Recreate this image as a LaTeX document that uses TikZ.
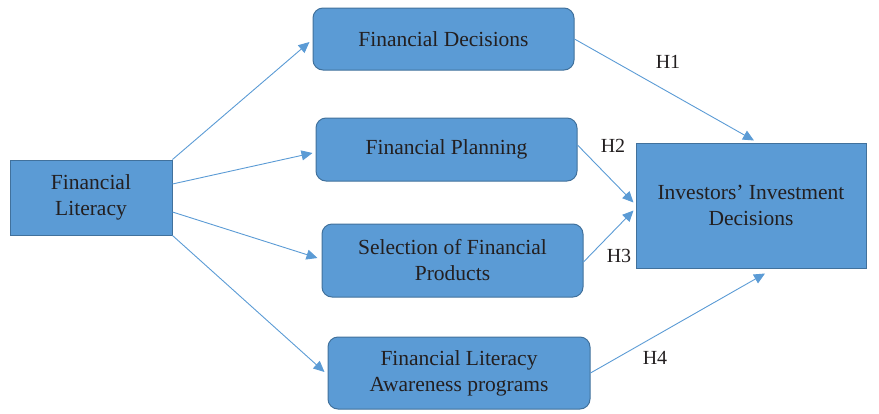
\documentclass[tikz,border=0pt]{standalone}
\usepackage{fontspec}
\usepackage{xcolor}
\usetikzlibrary{arrows.meta}
\setmainfont{Liberation Serif}

\definecolor{boxblue}{HTML}{5B9BD5}
\definecolor{boxedge}{HTML}{41719C}
\definecolor{textgray}{HTML}{231F20}

\begin{document}
\begin{tikzpicture}[x=1pt, y=-1pt, font=\rmfamily\fontsize{21.5}{26}\selectfont, text=textgray]
% Define styles
\tikzstyle{box}=[rectangle, text centered, align=center, draw=boxedge, line width=1pt, fill=boxblue, inner sep=0pt]
\tikzstyle{roundBox}=[box, rounded corners=10pt]
\tikzstyle{arrow}=[-{Triangle[length=11pt,width=10pt]}, draw=boxblue, line width=0.9pt]
\tikzstyle{hyp}=[inner sep=0pt, font=\rmfamily\fontsize{20}{24}\selectfont]

\useasboundingbox (0,0) rectangle (879,413);

% Draw input and output boxes
\node[box, minimum width=162pt, minimum height=75pt] (literacy) at (91,197.5) {Financial\\Literacy};
\node[box, minimum width=230pt, minimum height=125pt] (investors) at (751,205.5) {Investors’ Investment\\Decisions};

% Draw mediating boxes
\node[roundBox, minimum width=261pt, minimum height=62pt] (decisions) at (443.5,39) {Financial Decisions};
\node[roundBox, minimum width=261pt, minimum height=63pt] (planning) at (446.5,149.5) {Financial Planning};
\node[roundBox, minimum width=261pt, minimum height=73pt] (selection) at (452.5,260.5) {Selection of Financial\\Products};
\node[roundBox, minimum width=262pt, minimum height=72pt] (awareness) at (459,373) {Financial Literacy\\Awareness programs};

% Arrows
\draw[arrow] (literacy.north east) -- ([xshift=-3pt,yshift=-3pt]decisions.west);
\draw[arrow] ([yshift=13.5pt]literacy.east) -- ([xshift=-3pt,yshift=-3.5pt]planning.west);
\draw[arrow] ([yshift=-14.5pt]literacy.east) -- ([xshift=-4pt,yshift=2.5pt]selection.west);
\draw[arrow] (literacy.south east) -- ([xshift=-3pt,yshift=1pt]awareness.west);

\draw[arrow] (decisions.east) -- ([xshift=3pt,yshift=2pt]investors.north);
\draw[arrow] ([yshift=4.5pt]planning.east) -- ([xshift=-2pt,yshift=3pt]investors.west);
\draw[arrow] ([yshift=-1.5pt]selection.east) -- ([xshift=-2pt,yshift=-5pt]investors.west);
\draw[arrow] (awareness.east) -- ([xshift=14pt,yshift=-5pt]investors.south);

% Hypothesis labels
\node[hyp] (h1) at (668,62) {H1};
\node[hyp] (h2) at (613,146) {H2};
\node[hyp] (h3) at (619,256) {H3};
\node[hyp] (h4) at (655,358) {H4};
\end{tikzpicture}
\end{document}
